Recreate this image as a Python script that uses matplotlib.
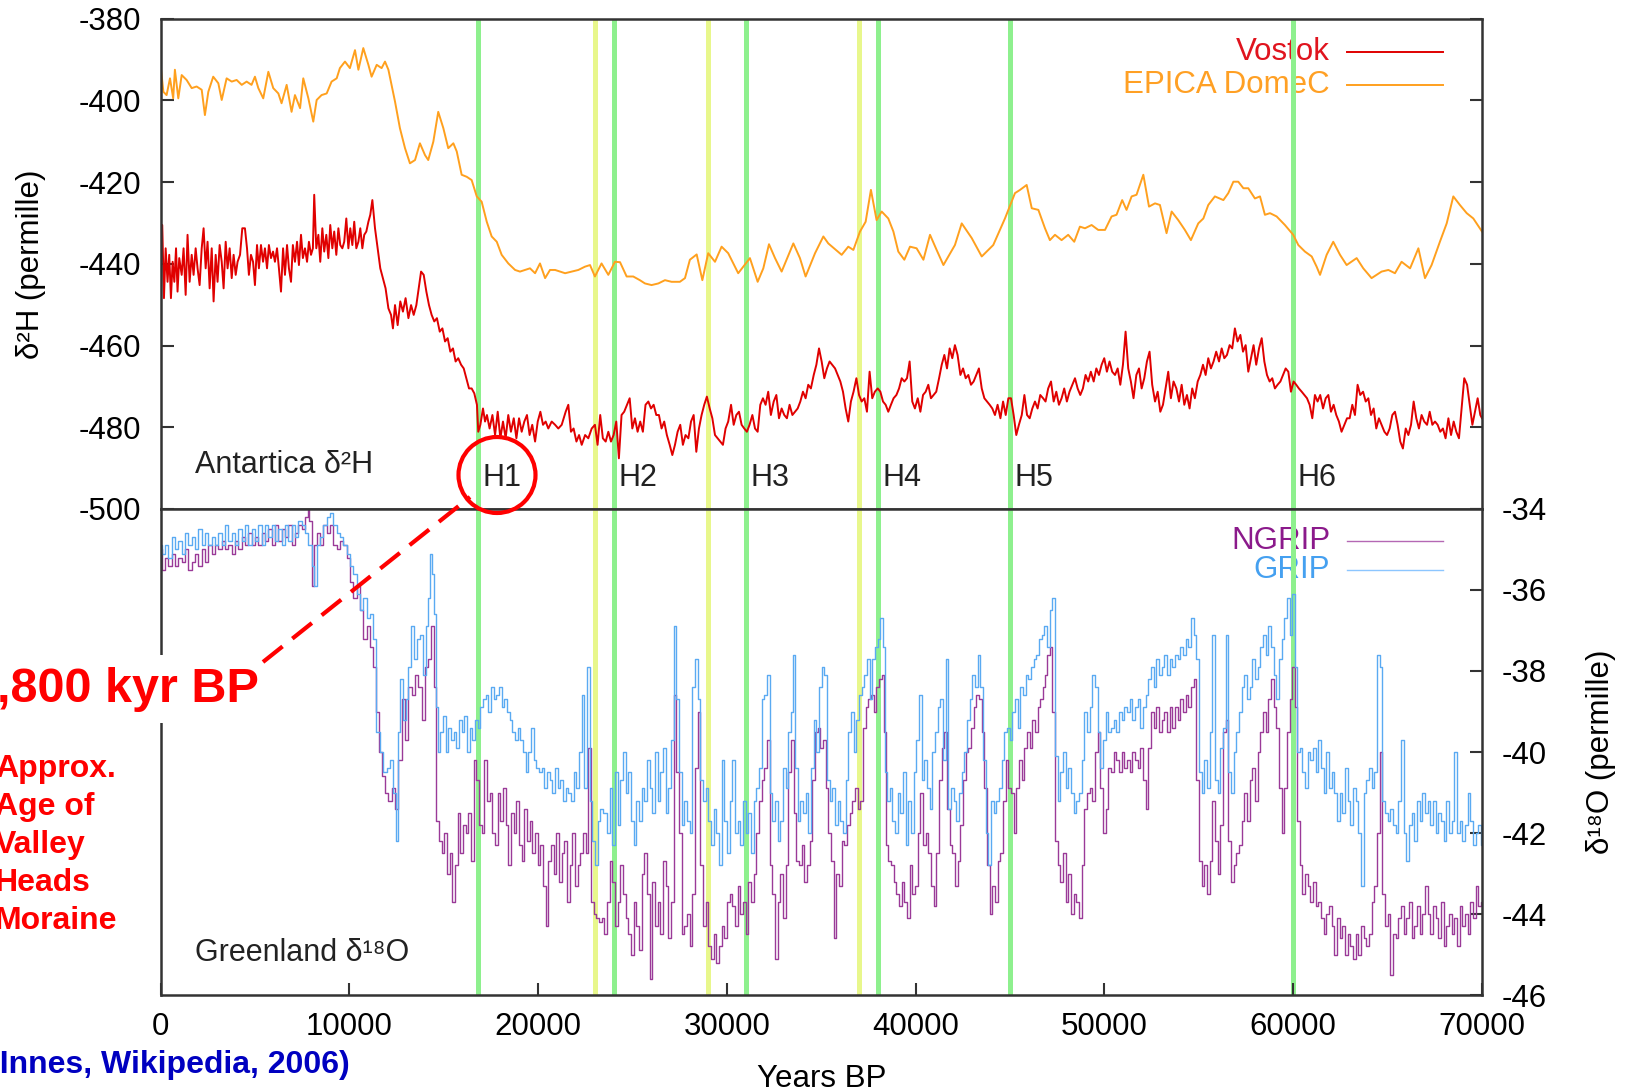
import matplotlib.pyplot as plt
from matplotlib.patches import Ellipse
from matplotlib.lines import Line2D

plt.rcParams['font.family'] = ['Liberation Sans', 'DejaVu Sans']
plt.rcParams['axes.unicode_minus'] = False

# Antarctic deuterium records: (years BP, d2H permille)
vostok = [
    (0, -439.5), (90, -430.5), (180, -448.4), (270, -436.2), (370, -444.4), (460, -437.8),
    (550, -448.4), (640, -439.5), (730, -444.4), (820, -436.2), (900, -446.8), (990, -438.6),
    (1120, -442.7), (1220, -436.2), (1330, -447.6), (1430, -432.9), (1540, -444.4), (1650, -437.8),
    (1750, -442.7), (1860, -436.2), (1960, -441.1), (2070, -445.2), (2180, -436.2), (2280, -431.3),
    (2390, -441.1), (2490, -434.6), (2600, -446.0), (2710, -436.2), (2810, -449.2), (2920, -437.8),
    (3020, -444.4), (3130, -435.4), (3240, -439.5), (3340, -446.0), (3450, -434.6), (3550, -441.1),
    (3660, -436.2), (3770, -443.5), (3870, -437.8), (3980, -442.7), (4080, -439.5), (4210, -437.8),
    (4330, -431.3), (4470, -431.3), (4580, -436.2), (4680, -442.7), (4790, -437.8), (4900, -439.5),
    (5000, -445.2), (5110, -435.4), (5210, -441.1), (5320, -435.4), (5430, -439.5), (5530, -436.2),
    (5640, -441.1), (5740, -435.4), (5850, -438.6), (5960, -437.0), (6060, -439.5), (6170, -436.2),
    (6270, -441.1), (6380, -446.8), (6490, -436.2), (6590, -442.7), (6700, -435.4), (6800, -441.1),
    (6910, -444.4), (7010, -435.4), (7120, -439.5), (7230, -434.6), (7330, -440.3), (7440, -432.9),
    (7540, -438.6), (7650, -436.2), (7760, -439.5), (7860, -434.6), (7970, -437.8), (8070, -436.2),
    (8140, -423.1), (8250, -436.2), (8360, -432.9), (8460, -439.5), (8570, -431.3), (8670, -437.0),
    (8780, -432.9), (8890, -438.6), (8990, -430.5), (9100, -436.2), (9200, -432.1), (9310, -437.8),
    (9420, -431.3), (9520, -435.4), (9630, -436.2), (9730, -434.6), (9840, -428.9), (9950, -436.2),
    (10050, -431.3), (10160, -435.4), (10260, -429.7), (10370, -436.2), (10480, -434.6), (10580, -431.3),
    (10690, -436.2), (10790, -432.9), (10900, -432.1), (11010, -429.7), (11110, -428.0), (11220, -424.4),
    (11360, -431.3), (11500, -436.2), (11640, -441.1), (11780, -443.5), (11920, -446.0), (12070, -450.9),
    (12210, -452.5), (12310, -455.8), (12420, -450.1), (12560, -455.0), (12700, -449.2), (12840, -451.7),
    (12980, -448.4), (13130, -453.3), (13270, -450.1), (13410, -452.5), (13550, -450.1), (13650, -446.8),
    (13800, -441.9), (13940, -442.7), (14080, -446.8), (14220, -450.1), (14360, -452.5), (14500, -454.1),
    (14640, -453.3), (14790, -456.6), (14930, -455.8), (15070, -459.0), (15210, -458.2), (15350, -461.5),
    (15490, -460.7), (15630, -463.9), (15770, -463.1), (15920, -464.7), (16060, -465.6), (16200, -468.0),
    (16340, -470.5), (16480, -470.5), (16620, -471.7), (16760, -474.5), (16830, -481.1), (16940, -479.4),
    (17080, -475.4), (17190, -478.6), (17290, -477.0), (17430, -480.3), (17580, -477.0), (17720, -481.9),
    (17860, -476.2), (18000, -482.7), (18140, -478.6), (18280, -482.7), (18420, -477.0), (18560, -481.1),
    (18710, -477.8), (18850, -482.7), (18990, -477.8), (19130, -481.1), (19270, -478.6), (19410, -477.0),
    (19550, -481.9), (19690, -479.4), (19840, -483.5), (19980, -478.6), (20120, -476.2), (20260, -479.4),
    (20400, -478.6), (20540, -480.3), (20720, -478.6), (20900, -479.4), (21070, -480.3), (21250, -479.4),
    (21460, -476.2), (21600, -474.5), (21740, -481.1), (21880, -480.3), (22030, -483.5), (22170, -481.9),
    (22310, -484.3), (22490, -481.9), (22660, -482.7), (22840, -480.3),
    (23010, -479.4), (23150, -484.3), (23290, -477.0), (23430, -482.7), (23580, -483.5), (23720, -481.1),
    (23860, -483.5), (24000, -481.9), (24140, -478.6), (24280, -487.6), (24420, -477.0), (24560, -476.2),
    (24710, -474.5), (24850, -472.9), (24990, -480.3), (25130, -477.8), (25270, -481.1), (25410, -478.6),
    (25550, -481.1), (25690, -474.5), (25840, -473.7), (25980, -475.4), (26120, -474.5), (26260, -477.0),
    (26400, -477.0), (26540, -480.3), (26680, -478.6), (26820, -481.9), (26970, -484.3), (27110, -486.8),
    (27250, -484.3), (27390, -481.1), (27530, -479.4), (27670, -484.3), (27810, -481.9), (27960, -482.7),
    (28100, -478.6), (28240, -477.0), (28380, -486.0), (28520, -480.3), (28660, -477.0), (28800, -474.5),
    (28940, -472.5), (29090, -475.4), (29230, -477.8), (29370, -481.9), (29510, -482.7), (29650, -483.5),
    (29790, -484.3), (29930, -480.3), (30070, -478.6), (30220, -474.5), (30360, -479.4), (30500, -477.0),
    (30640, -476.2), (30780, -479.4), (30920, -480.3), (31060, -481.1), (31200, -479.4), (31350, -477.0),
    (31490, -480.3), (31630, -481.1), (31770, -474.5), (31910, -472.9), (32050, -474.5), (32190, -471.3),
    (32330, -477.0), (32480, -473.7), (32620, -472.1), (32760, -477.8), (32900, -475.4), (33040, -477.0),
    (33180, -477.8), (33320, -474.5), (33470, -477.0), (33610, -476.2), (33750, -475.4), (33890, -473.7),
    (34030, -471.3), (34170, -472.9), (34310, -469.6), (34450, -470.5), (34600, -467.2), (34740, -464.7),
    (34880, -460.7), (35020, -463.9), (35160, -468.0), (35300, -465.6), (35440, -463.9), (35580, -464.7),
    (35730, -465.6), (35870, -467.2), (36010, -468.8), (36150, -471.3), (36290, -475.4), (36430, -478.6),
    (36570, -473.7), (36710, -471.3), (36860, -468.0), (37000, -472.1), (37140, -473.7), (37280, -472.9),
    (37420, -476.2), (37560, -466.4), (37700, -472.9), (37840, -471.3), (37990, -470.5), (38130, -471.3),
    (38270, -473.7), (38410, -474.5), (38550, -476.2), (38690, -474.5), (38830, -472.9), (38980, -472.1),
    (39120, -470.5), (39260, -468.0), (39400, -468.8), (39540, -468.0), (39680, -463.9), (39820, -473.7),
    (39960, -475.4), (40110, -472.9), (40250, -476.2), (40390, -472.1), (40530, -471.3), (40670, -469.6),
    (40810, -472.9), (40950, -472.1), (41090, -471.3), (41240, -468.0), (41380, -464.7), (41520, -462.3),
    (41660, -465.6), (41800, -460.7), (41940, -463.1), (42080, -459.9), (42220, -462.3), (42370, -467.2),
    (42510, -465.6), (42650, -468.0), (42790, -467.2), (42930, -469.6), (43070, -468.8), (43210, -467.2),
    (43350, -465.6), (43500, -470.5), (43640, -472.9), (43780, -473.7), (43920, -474.5), (44060, -475.4),
    (44200, -477.0), (44340, -474.5), (44490, -477.8), (44630, -473.7), (44770, -477.0), (44910, -472.9),
    (45050, -472.9), (45190, -477.0), (45330, -481.9), (45470, -479.4), (45620, -477.0), (45760, -472.1),
    (45900, -477.0), (46040, -477.8), (46180, -475.4), (46320, -473.7), (46460, -475.4), (46600, -472.1),
    (46750, -472.9),
    (46880, -473.7), (47020, -470.5), (47170, -468.8), (47310, -473.7), (47450, -471.3), (47590, -474.5),
    (47730, -472.9), (47870, -470.5), (48010, -473.7), (48150, -471.3), (48300, -469.6), (48440, -468.0),
    (48580, -470.5), (48720, -472.1), (48860, -470.5), (49000, -467.2), (49140, -468.8), (49280, -466.4),
    (49430, -468.8), (49570, -465.6), (49710, -467.2), (49850, -464.7), (49990, -463.1), (50130, -466.4),
    (50270, -463.9), (50410, -466.4), (50560, -467.2), (50700, -465.6), (50840, -469.6), (50980, -464.7),
    (51120, -456.6), (51260, -465.6), (51400, -468.8), (51540, -472.9), (51690, -467.2), (51830, -465.6),
    (51970, -470.5), (52110, -468.0), (52250, -463.9), (52390, -461.5), (52530, -469.6), (52680, -473.7),
    (52820, -471.3), (52960, -476.2), (53100, -474.5), (53240, -470.5), (53380, -466.4), (53520, -472.9),
    (53660, -468.8), (53810, -470.5), (53950, -473.7), (54090, -469.6), (54230, -474.5), (54370, -472.1),
    (54510, -475.4), (54650, -470.5), (54790, -472.9), (54940, -468.8), (55080, -467.2), (55220, -464.7),
    (55360, -467.2), (55500, -463.1), (55640, -465.6), (55780, -463.9), (55920, -461.5), (56070, -463.9),
    (56210, -460.7), (56350, -463.1), (56490, -462.3), (56630, -459.9), (56770, -460.7), (56910, -455.8),
    (57050, -459.0), (57200, -457.4), (57340, -461.5), (57480, -459.9), (57620, -466.4), (57760, -463.1),
    (57900, -459.9), (58040, -464.7), (58190, -460.7), (58330, -458.2), (58470, -463.9), (58610, -467.2),
    (58750, -468.8), (58890, -468.0), (59030, -470.5), (59170, -469.6), (59320, -468.8), (59460, -467.2),
    (59600, -465.6), (59740, -466.4), (59880, -471.3), (60020, -468.8), (60160, -469.6), (60300, -470.5),
    (60450, -471.3), (60590, -472.1), (60730, -472.9), (60870, -474.5), (61010, -477.8), (61150, -472.1),
    (61290, -473.7), (61430, -472.1), (61580, -475.4), (61720, -472.9), (61860, -472.1), (62000, -476.2),
    (62140, -474.5), (62280, -477.0), (62420, -478.6), (62560, -481.1), (62710, -479.4), (62850, -477.8),
    (62990, -477.8), (63130, -474.5), (63270, -477.0), (63410, -469.6), (63550, -472.1), (63700, -471.3),
    (63840, -473.7), (63980, -472.9), (64120, -477.0), (64260, -475.4), (64400, -480.3), (64540, -477.8),
    (64680, -479.4), (64830, -481.1), (64970, -481.9), (65110, -480.3), (65250, -477.0), (65390, -476.2),
    (65530, -479.4), (65670, -483.5), (65810, -485.2), (65960, -480.3), (66100, -481.9), (66240, -479.4),
    (66380, -473.7), (66520, -477.8), (66660, -480.3), (66800, -477.0), (66940, -478.6), (67090, -479.4),
    (67230, -476.2), (67370, -479.4), (67510, -478.6), (67650, -479.4), (67790, -481.1), (67930, -480.3),
    (68070, -482.7), (68220, -477.8), (68360, -481.9), (68500, -478.6), (68640, -481.1), (68780, -482.7),
    (68920, -475.4), (69060, -468.0), (69210, -469.6), (69350, -474.5), (69490, -479.4), (69630, -476.2),
    (69770, -472.9), (69910, -477.0), (70000, -477.8),
]

epica = [
    (0, -391.3), (150, -397.9), (320, -398.7), (500, -394.6), (670, -399.5), (760, -392.5),
    (940, -399.5), (1120, -393.8), (1380, -395.0), (1650, -397.0), (1910, -396.6), (2180, -397.4),
    (2350, -403.6), (2530, -397.9), (2790, -394.2), (3060, -395.8), (3240, -399.9), (3500, -394.6),
    (3770, -395.4), (4030, -395.0), (4300, -396.2), (4560, -395.4), (4820, -396.2), (5000, -394.2),
    (5180, -397.0), (5440, -399.5), (5710, -393.0), (5970, -397.0), (6240, -398.3), (6410, -400.7),
    (6680, -396.2), (6940, -402.8), (7120, -398.7), (7390, -401.9), (7560, -394.6), (7830, -399.5),
    (8090, -405.2), (8270, -399.9), (8530, -398.7), (8800, -398.3), (9060, -395.4), (9330, -394.6),
    (9500, -392.1), (9770, -390.5), (10030, -392.1), (10300, -387.7), (10480, -392.5), (10740, -387.2),
    (11010, -391.3), (11180, -394.2), (11450, -391.3), (11710, -392.1), (11890, -390.5), (12070, -392.5),
    (12420, -400.3), (12680, -406.8), (12950, -411.7), (13210, -415.4), (13480, -414.6), (13740, -410.5),
    (14010, -413.4), (14180, -414.6), (14450, -410.1), (14710, -402.8), (14980, -406.8), (15240, -411.7),
    (15510, -410.5), (15690, -412.5), (15950, -418.2), (16220, -418.7), (16480, -419.5), (16750, -423.5),
    (17010, -424.8), (17280, -429.7), (17540, -433.3), (17810, -434.6), (18070, -437.8), (18420, -439.9),
    (18780, -441.5), (19040, -441.9), (19310, -441.5), (19570, -441.1), (19840, -442.3), (20100, -439.9),
    (20370, -443.5), (20630, -441.5), (20900, -441.5), (21160, -441.9), (21430, -442.3), (21780, -441.9),
    (22130, -441.5), (22480, -440.7), (22750, -440.3),
    (23010, -443.1), (23360, -439.9), (23720, -442.7), (24070, -439.5), (24340, -439.6), (24690, -443.1),
    (25040, -443.1), (25390, -444.0), (25660, -444.8), (26010, -445.2), (26370, -444.8), (26720, -444.0),
    (27070, -444.4), (27510, -444.4), (27780, -443.5), (28040, -439.0), (28400, -437.7), (28700, -444.0),
    (29010, -437.4), (29370, -439.5), (29720, -435.8), (30070, -437.4), (30600, -442.3), (31220, -438.6),
    (31630, -444.4), (31930, -441.1), (32230, -435.2), (32550, -438.6), (32900, -441.9), (33520, -435.0),
    (33870, -438.6), (34170, -443.1), (34670, -437.4), (35110, -433.3), (35370, -435.0), (36080, -437.8),
    (36430, -435.8), (36700, -436.6), (37050, -432.1), (37350, -429.7), (37630, -421.9), (37930, -429.3),
    (38200, -427.2), (38550, -428.9), (38820, -432.1), (39080, -437.0), (39400, -439.0), (39700, -435.8),
    (40050, -436.2), (40410, -439.0), (40760, -432.9), (41110, -436.6), (41470, -440.3), (42080, -435.4),
    (42440, -430.1), (42970, -433.7), (43500, -438.2), (44110, -435.4), (44730, -428.9), (45260, -422.7),
    (45530, -421.9), (45880, -420.7), (46150, -426.4), (46500, -426.8), (46850, -431.3),
    (47110, -434.2), (47380, -432.9), (47730, -434.2), (48080, -432.9), (48400, -434.6), (48700, -430.9),
    (48970, -431.3), (49320, -430.5), (49670, -431.7), (50030, -431.7), (50380, -428.4), (50640, -428.0),
    (50940, -424.4), (51170, -426.8), (51440, -423.5), (51700, -423.1), (52060, -418.2), (52360, -426.0),
    (52680, -425.2), (52940, -425.6), (53290, -432.5), (53560, -427.2), (53910, -429.3), (54260, -431.7),
    (54580, -434.2), (54970, -430.1), (55240, -428.9), (55500, -425.6), (55850, -423.5), (56300, -424.4),
    (56560, -422.7), (56830, -419.9), (57090, -419.9), (57360, -421.5), (57620, -421.5), (57970, -424.0),
    (58240, -423.5), (58500, -428.0), (58770, -427.6), (59120, -428.4), (59560, -430.5), (60000, -432.9),
    (60270, -435.4), (60620, -437.0), (60980, -438.2), (61240, -440.7), (61420, -442.7), (61770, -437.8),
    (62120, -434.6), (62480, -437.8), (62830, -440.3), (63360, -438.6), (63710, -441.1), (64150, -443.5),
    (64680, -441.9), (65040, -441.5), (65390, -442.3), (65740, -439.5), (66190, -441.1), (66630, -436.2),
    (66980, -443.5), (67330, -440.3), (67770, -434.6), (68130, -430.1), (68480, -423.5), (68830, -425.6),
    (69190, -427.6), (69540, -428.9), (70000, -432.1),
]

# Greenland oxygen isotope records: (years BP, d18O permille)
ngrip = [
    (0, -35.0), (150, -35.5), (320, -35.2), (500, -35.4), (670, -35.1), (850, -35.4), (1030, -35.2),
    (1200, -35.3), (1380, -35.0), (1560, -35.5), (1730, -35.3), (1910, -35.1), (2090, -35.4), (2260, -35.0),
    (2440, -35.3), (2620, -34.9), (2790, -35.1), (2970, -34.9), (3150, -35.0), (3320, -34.8), (3500, -35.0),
    (3680, -34.9), (3850, -35.1), (4030, -34.8), (4210, -35.0), (4380, -34.7), (4560, -34.9), (4740, -34.6),
    (4910, -34.9), (5090, -34.7), (5270, -34.9), (5440, -34.6), (5620, -34.8), (5800, -34.5), (5970, -34.9),
    (6150, -34.4), (6330, -34.8), (6500, -34.5), (6680, -34.7), (6860, -34.4), (7030, -34.9), (7210, -34.6),
    (7390, -34.4), (7560, -34.5), (7740, -34.2), (7830, -34.0), (7920, -34.3), (8090, -35.9), (8180, -34.9),
    (8360, -34.6), (8530, -34.9), (8710, -34.4), (8890, -34.6), (9060, -34.4), (9240, -34.9), (9420, -35.0),
    (9590, -34.8), (9770, -34.9), (9950, -35.2), (10120, -35.8), (10300, -36.2), (10480, -35.9), (10650, -36.5),
    (10830, -37.2), (11010, -36.9), (11180, -37.4), (11360, -37.9), (11500, -39.0), (11620, -40.0), (11800, -40.6),
    (11980, -41.0), (12150, -41.2), (12330, -40.9), (12510, -41.4), (12680, -40.2), (12860, -38.7), (13040, -39.7),
    (13210, -38.4), (13390, -38.6), (13570, -38.1), (13740, -38.4), (13920, -39.2), (14100, -37.9), (14270, -37.7),
    (14410, -36.9), (14540, -38.4), (14680, -41.7), (14820, -42.2), (14960, -42.5), (15100, -42.0), (15240, -43.0),
    (15390, -42.5), (15530, -43.7), (15670, -42.8), (15810, -41.5), (15950, -42.5), (16090, -41.8), (16230, -42.0),
    (16370, -41.5), (16520, -42.7), (16660, -40.2), (16800, -40.7), (16940, -41.8), (17080, -42.0), (17220, -40.2),
    (17360, -41.2), (17500, -41.0), (17650, -42.0), (17790, -42.3), (17930, -41.0), (18070, -41.7), (18210, -40.9),
    (18350, -41.8), (18490, -42.8), (18640, -41.5), (18780, -42.0), (18920, -41.2), (19060, -42.3), (19200, -42.7),
    (19340, -41.4), (19480, -42.2), (19620, -41.7), (19770, -42.5), (19910, -42.0), (20050, -42.8), (20190, -42.3),
    (20330, -43.3), (20470, -44.3), (20610, -42.7), (20750, -42.3), (20900, -43.0), (21040, -42.0), (21180, -43.2),
    (21320, -42.5), (21460, -42.2), (21600, -43.7), (21740, -42.8), (21880, -42.0), (22030, -43.3), (22170, -42.8),
    (22310, -42.5), (22450, -42.0), (22590, -42.5), (22730, -39.9), (22870, -43.7), (23010, -44.0), (23160, -44.1),
    (23300, -44.2), (23440, -44.1),
    (23580, -44.5), (23720, -43.7), (23860, -42.7), (24000, -43.2), (24140, -44.3), (24280, -43.7), (24420, -42.8),
    (24560, -43.5), (24710, -44.1), (24850, -44.5), (24990, -45.0), (25130, -43.7), (25270, -44.3), (25410, -44.9),
    (25550, -43.0), (25690, -42.5), (25840, -43.5), (25980, -45.6), (26120, -43.2), (26260, -44.3), (26400, -43.7),
    (26540, -44.5), (26680, -42.7), (26820, -43.3), (26970, -44.6), (27110, -43.7), (27250, -38.6), (27390, -40.5),
    (27530, -42.0), (27670, -44.5), (27810, -44.3), (27960, -44.0), (28100, -44.8), (28240, -43.5), (28380, -40.4),
    (28520, -39.0), (28660, -42.8), (28800, -44.3), (28940, -43.7), (29090, -44.8), (29230, -45.1), (29370, -44.5),
    (29510, -45.2), (29650, -44.8), (29790, -44.3), (29930, -44.6), (30070, -43.7), (30220, -43.5), (30360, -43.8),
    (30500, -44.3), (30640, -43.3), (30780, -44.0), (30920, -43.7), (31060, -44.5), (31200, -43.2), (31350, -43.7),
    (31490, -43.0), (31630, -42.0), (31770, -41.2), (31910, -40.7), (32050, -40.4), (32190, -39.7), (32330, -42.8),
    (32480, -43.5), (32620, -45.1), (32760, -43.7), (32900, -43.0), (33040, -44.1), (33180, -42.8), (33320, -40.5),
    (33470, -39.7), (33610, -41.5), (33750, -42.7), (33890, -42.8), (34030, -42.3), (34170, -43.2), (34310, -42.8),
    (34450, -42.2), (34600, -40.7), (34740, -39.5), (34880, -39.4), (35020, -39.9), (35160, -39.7), (35300, -40.9),
    (35440, -42.0), (35580, -42.7), (35730, -44.6), (35870, -43.0), (36010, -43.3), (36150, -42.2), (36290, -42.3),
    (36430, -41.8), (36570, -41.5), (36710, -41.2), (36860, -40.9), (37000, -41.4), (37140, -41.2), (37280, -39.4),
    (37420, -38.9), (37560, -38.7), (37700, -38.6), (37840, -39.0), (37990, -38.4), (38130, -38.2), (38270, -38.1),
    (38370, -39.5), (38480, -42.3), (38620, -42.7), (38760, -42.8), (38900, -43.2), (39050, -43.5), (39190, -43.8),
    (39330, -43.2), (39470, -43.7), (39610, -44.1), (39750, -42.8), (39890, -43.5), (40030, -43.3), (40180, -42.0),
    (40320, -41.0), (40460, -42.3), (40600, -42.0), (40740, -42.5), (40880, -43.3), (41020, -43.8), (41160, -42.5),
    (41310, -40.7), (41450, -39.9), (41590, -39.5), (41730, -41.4), (41870, -42.3), (42010, -42.5), (42150, -43.3),
    (42300, -42.7), (42440, -41.8), (42580, -40.7), (42720, -40.0), (42860, -39.9), (43000, -39.4), (43140, -38.9),
    (43280, -38.6), (43430, -38.7), (43570, -39.5), (43710, -40.9), (43850, -42.8), (43990, -44.0), (44130, -43.3),
    (44270, -43.7), (44410, -42.7), (44560, -42.5), (44700, -41.2), (44840, -40.2), (44980, -40.9), (45120, -41.0),
    (45260, -42.0), (45400, -40.9), (45540, -40.2), (45690, -40.7), (45830, -39.9), (45970, -39.5), (46110, -39.9),
    (46250, -39.2), (46390, -39.5), (46530, -38.9), (46670, -38.7), (46820, -38.4),
    (46880, -38.1), (47020, -37.6), (47170, -37.4), (47310, -39.0), (47450, -42.2), (47590, -42.8), (47730, -43.2),
    (47870, -42.5), (48010, -43.7), (48150, -43.0), (48300, -44.0), (48440, -43.5), (48580, -43.7), (48720, -44.1),
    (48860, -42.8), (49000, -41.4), (49140, -41.0), (49280, -40.9), (49430, -41.2), (49570, -40.0), (49710, -39.5),
    (49850, -40.9), (49990, -42.0), (50130, -41.4), (50270, -40.4), (50410, -40.5), (50560, -40.0), (50700, -40.2),
    (50840, -40.5), (50980, -40.0), (51120, -40.4), (51260, -40.2), (51400, -40.5), (51540, -40.0), (51690, -40.2),
    (51830, -40.4), (51970, -39.9), (52110, -40.7), (52250, -41.4), (52390, -39.9), (52530, -39.0), (52680, -39.4),
    (52820, -38.9), (52960, -39.5), (53100, -39.2), (53240, -39.0), (53380, -39.5), (53520, -38.9), (53660, -39.4),
    (53810, -38.9), (53950, -39.2), (54090, -38.7), (54230, -39.0), (54370, -38.6), (54510, -38.9), (54650, -38.4),
    (54790, -38.2), (54940, -40.7), (55080, -42.7), (55220, -43.3), (55360, -42.8), (55500, -43.5), (55640, -42.7),
    (55780, -41.2), (55920, -42.2), (56070, -43.0), (56210, -41.8), (56350, -39.5), (56490, -39.2), (56630, -42.2),
    (56770, -43.2), (56910, -42.8), (57050, -42.5), (57200, -42.3), (57340, -41.7), (57480, -41.0), (57620, -41.7),
    (57760, -40.7), (57900, -40.4), (58040, -41.2), (58190, -40.0), (58330, -39.5), (58470, -39.0), (58610, -39.5),
    (58750, -38.7), (58890, -38.2), (59030, -38.9), (59170, -39.4), (59320, -40.9), (59460, -42.0), (59600, -40.9),
    (59740, -39.5), (59880, -38.7), (60020, -37.9), (60160, -38.9), (60270, -41.7), (60410, -42.8), (60550, -43.5),
    (60690, -43.0), (60830, -43.3), (60980, -43.7), (61120, -43.2), (61260, -43.8), (61400, -43.7), (61540, -44.1),
    (61680, -44.5), (61820, -44.0), (61960, -43.8), (62110, -44.3), (62250, -45.0), (62390, -44.1), (62530, -44.6),
    (62670, -44.3), (62810, -45.0), (62950, -44.5), (63090, -44.8), (63240, -45.1), (63380, -44.5), (63520, -45.0),
    (63660, -44.3), (63800, -44.6), (63940, -44.8), (64080, -44.5), (64220, -43.7), (64370, -43.3), (64510, -42.0),
    (64650, -40.0), (64790, -43.5), (64930, -44.3), (65070, -44.0), (65210, -45.5), (65360, -44.5), (65500, -44.6),
    (65640, -44.1), (65780, -43.8), (65920, -44.5), (66060, -44.1), (66200, -43.7), (66340, -44.6), (66490, -44.3),
    (66630, -43.8), (66770, -44.5), (66910, -44.0), (67050, -43.3), (67190, -44.0), (67330, -44.5), (67470, -43.8),
    (67620, -44.1), (67760, -44.6), (67900, -43.7), (68040, -44.8), (68180, -44.3), (68320, -44.0), (68460, -44.5),
    (68600, -44.1), (68750, -44.8), (68890, -43.8), (69030, -44.3), (69170, -44.0), (69310, -44.5), (69450, -43.7),
    (69590, -44.1), (69730, -43.3), (69880, -43.8), (70000, -43.7),
]

grip = [
    (0, -34.9), (150, -35.1), (320, -34.9), (500, -35.2), (670, -34.7), (850, -35.0), (1030, -34.8),
    (1200, -35.1), (1380, -34.6), (1560, -34.9), (1730, -34.7), (1910, -35.0), (2090, -34.5), (2260, -34.9),
    (2440, -34.6), (2620, -34.9), (2790, -34.7), (2970, -34.9), (3150, -34.6), (3320, -34.9), (3500, -34.4),
    (3680, -34.8), (3850, -34.6), (4030, -34.9), (4210, -34.5), (4380, -34.8), (4560, -34.4), (4740, -34.9),
    (4910, -34.5), (5090, -34.8), (5270, -34.4), (5440, -34.9), (5620, -34.4), (5800, -34.7), (5970, -34.4),
    (6150, -34.8), (6330, -34.5), (6500, -34.9), (6680, -34.4), (6860, -34.8), (7030, -34.4), (7210, -34.7),
    (7390, -34.3), (7560, -34.4), (7740, -34.6), (7920, -34.9), (8000, -34.9), (8090, -35.4), (8180, -35.9),
    (8360, -34.9), (8530, -34.7), (8710, -34.4), (8890, -34.2), (9060, -34.1), (9240, -34.4), (9420, -34.6),
    (9590, -34.7), (9770, -34.9), (9950, -35.1), (10120, -35.4), (10300, -35.6), (10480, -36.1), (10650, -36.5),
    (10830, -36.2), (11010, -36.7), (11180, -36.6), (11360, -37.2), (11450, -39.5), (11540, -39.5), (11710, -40.0),
    (11890, -40.5), (12070, -40.4), (12240, -40.2), (12420, -41.0), (12510, -42.2), (12600, -39.5), (12770, -38.2),
    (12910, -39.2), (13050, -38.7), (13200, -37.9), (13340, -36.9), (13480, -37.7), (13650, -37.2), (13830, -37.1),
    (13970, -38.1), (14110, -36.9), (14260, -36.2), (14330, -35.1), (14430, -35.6), (14540, -36.6), (14640, -38.9),
    (14750, -40.0), (14890, -39.5), (15030, -39.1), (15170, -40.0), (15320, -39.4), (15460, -39.7), (15600, -39.5),
    (15740, -39.9), (15880, -39.2), (16020, -39.5), (16160, -39.1), (16300, -40.0), (16440, -39.4), (16590, -39.7),
    (16730, -39.2), (16870, -39.4), (17010, -38.9), (17150, -38.7), (17290, -38.6), (17430, -39.0), (17580, -38.4),
    (17720, -38.7), (17860, -38.6), (18000, -38.4), (18140, -38.9), (18280, -38.7), (18420, -39.0), (18560, -39.2),
    (18710, -39.5), (18850, -39.7), (18990, -39.4), (19130, -39.7), (19270, -40.0), (19410, -40.5), (19550, -40.0),
    (19690, -39.4), (19840, -40.2), (19980, -40.4), (20120, -40.5), (20260, -40.4), (20400, -40.9), (20540, -40.5),
    (20680, -40.7), (20830, -41.0), (20970, -40.4), (21110, -40.9), (21250, -40.7), (21390, -41.2), (21530, -40.9),
    (21670, -41.0), (21810, -41.2), (21960, -40.5), (22100, -40.9), (22240, -40.0), (22380, -38.6), (22520, -40.9),
    (22660, -37.9), (22800, -41.2), (22940, -42.2), (23090, -42.8), (23230, -41.7), (23370, -41.4), (23510, -41.5),
    (23580, -41.5), (23720, -42.0), (23860, -40.9), (24000, -42.3), (24140, -40.5), (24280, -41.8), (24420, -40.7),
    (24560, -40.0), (24710, -41.0), (24850, -40.5), (24990, -41.7), (25130, -42.3), (25270, -41.2), (25410, -41.7),
    (25550, -40.9), (25690, -41.2), (25840, -40.2), (25980, -40.9), (26120, -41.5), (26260, -40.0), (26400, -41.2),
    (26540, -40.5), (26680, -39.9), (26820, -41.5), (26970, -40.9), (27110, -39.7), (27250, -36.9), (27390, -38.7),
    (27530, -40.5), (27670, -41.8), (27810, -41.2), (27960, -41.7), (28100, -42.0), (28240, -38.4), (28380, -37.7),
    (28520, -38.7), (28660, -40.7), (28800, -41.2), (28940, -40.9), (29090, -41.7), (29230, -42.3), (29370, -41.4),
    (29510, -42.0), (29650, -42.8), (29790, -40.2), (29930, -41.7), (30070, -42.5), (30220, -41.2), (30360, -40.2),
    (30500, -42.0), (30640, -41.7), (30780, -42.3), (30920, -41.2), (31060, -42.0), (31200, -41.5), (31350, -42.5),
    (31490, -41.2), (31630, -40.9), (31770, -40.4), (31910, -38.7), (32050, -38.6), (32190, -38.1), (32330, -41.0),
    (32480, -41.7), (32620, -41.2), (32760, -42.2), (32900, -41.7), (33040, -40.4), (33180, -40.9), (33320, -39.5),
    (33470, -39.0), (33570, -37.6), (33680, -40.4), (33820, -41.7), (33960, -41.2), (34100, -41.5), (34240, -41.0),
    (34380, -42.0), (34520, -40.4), (34670, -39.2), (34810, -40.0), (34950, -38.4), (35090, -37.9), (35230, -38.1),
    (35370, -40.7), (35510, -41.2), (35660, -40.9), (35800, -41.8), (35940, -41.2), (36080, -41.7), (36220, -42.0),
    (36360, -40.7), (36500, -39.5), (36640, -39.0), (36790, -40.0), (36930, -39.2), (37070, -38.6), (37210, -38.4),
    (37350, -38.1), (37490, -37.7), (37630, -38.7), (37770, -37.7), (37920, -37.4), (38060, -37.2), (38200, -36.7),
    (38300, -37.4), (38410, -40.5), (38550, -41.2), (38690, -40.9), (38830, -41.7), (38980, -42.0), (39120, -41.0),
    (39260, -41.5), (39400, -40.5), (39540, -42.3), (39680, -41.2), (39820, -42.0), (39960, -40.5), (40110, -39.7),
    (40250, -38.6), (40390, -40.7), (40530, -40.2), (40670, -40.9), (40810, -41.4), (40950, -40.0), (41090, -39.5),
    (41240, -38.9), (41380, -38.7), (41520, -40.2), (41660, -37.7), (41800, -41.4), (41940, -40.9), (42080, -41.2),
    (42220, -41.7), (42370, -41.0), (42510, -40.5), (42650, -40.0), (42790, -39.2), (42930, -38.7), (43070, -38.1),
    (43210, -38.4), (43350, -37.6), (43500, -38.4), (43640, -40.2), (43780, -42.0), (43920, -42.8), (44060, -41.2),
    (44200, -41.5), (44340, -41.2), (44490, -40.9), (44630, -40.2), (44770, -39.5), (44910, -39.4), (45050, -39.7),
    (45190, -39.0), (45330, -38.7), (45470, -39.4), (45620, -38.4), (45760, -38.6), (45900, -38.1), (46040, -38.2),
    (46180, -37.9), (46320, -37.7), (46460, -37.6), (46600, -37.2), (46750, -37.1),
    (46880, -36.9), (47020, -37.4), (47170, -36.5), (47310, -36.2), (47450, -40.1), (47590, -41.2), (47730, -40.5),
    (47870, -40.0), (48010, -40.9), (48150, -40.4), (48300, -41.0), (48440, -41.5), (48580, -41.2), (48720, -41.0),
    (48860, -40.2), (49000, -39.0), (49140, -39.5), (49280, -38.9), (49430, -38.1), (49570, -38.4), (49710, -39.5),
    (49850, -40.4), (49990, -39.7), (50130, -39.0), (50270, -39.5), (50410, -39.4), (50560, -39.2), (50700, -39.5),
    (50840, -39.0), (50980, -39.2), (51120, -38.9), (51260, -39.0), (51400, -38.7), (51540, -39.2), (51690, -38.9),
    (51830, -38.7), (51970, -39.4), (52110, -38.9), (52250, -38.6), (52390, -38.2), (52530, -37.9), (52680, -38.4),
    (52820, -37.7), (52960, -38.1), (53100, -37.9), (53240, -37.6), (53380, -38.1), (53520, -37.7), (53660, -37.9),
    (53810, -37.6), (53950, -37.7), (54090, -37.4), (54230, -37.6), (54370, -37.2), (54510, -37.4), (54650, -36.7),
    (54790, -37.1), (54940, -37.7), (55080, -40.5), (55220, -41.0), (55360, -40.2), (55500, -40.9), (55640, -39.5),
    (55780, -37.1), (55920, -40.7), (56070, -41.0), (56210, -39.9), (56350, -39.4), (56490, -37.1), (56630, -40.5),
    (56770, -41.0), (56910, -40.0), (57050, -39.5), (57200, -39.0), (57340, -38.4), (57480, -38.1), (57620, -38.7),
    (57760, -38.4), (57900, -37.7), (58040, -38.2), (58190, -37.9), (58330, -37.4), (58470, -37.1), (58610, -37.6),
    (58750, -36.9), (58890, -37.4), (59030, -38.1), (59170, -38.7), (59320, -37.7), (59460, -37.2), (59600, -36.7),
    (59740, -36.2), (59880, -37.1), (60020, -36.1), (60160, -37.9), (60270, -40.0), (60410, -39.9), (60550, -40.5),
    (60690, -40.9), (60830, -40.0), (60980, -40.2), (61120, -39.9), (61260, -40.5), (61400, -39.7), (61540, -40.4),
    (61680, -41.0), (61820, -40.0), (61960, -40.9), (62110, -40.5), (62250, -41.0), (62390, -41.7), (62530, -41.0),
    (62670, -41.5), (62810, -40.4), (62950, -41.2), (63090, -41.8), (63240, -40.9), (63380, -41.2), (63520, -42.0),
    (63660, -43.3), (63800, -41.0), (63940, -40.7), (64080, -40.4), (64220, -40.9), (64370, -40.5), (64510, -37.6),
    (64650, -37.9), (64790, -41.2), (64930, -41.5), (65070, -41.7), (65210, -41.4), (65360, -41.8), (65500, -42.0),
    (65640, -41.2), (65780, -39.7), (65920, -42.0), (66060, -42.7), (66200, -41.8), (66340, -41.5), (66490, -42.2),
    (66630, -41.2), (66770, -41.7), (66910, -41.0), (67050, -41.5), (67190, -41.2), (67330, -41.8), (67470, -41.2),
    (67620, -42.0), (67760, -41.5), (67900, -41.7), (68040, -42.2), (68180, -41.2), (68320, -42.0), (68460, -41.7),
    (68600, -40.0), (68750, -42.0), (68890, -41.7), (69030, -42.2), (69170, -41.8), (69310, -41.0), (69450, -41.7),
    (69590, -42.3), (69730, -42.0), (69880, -41.8), (70000, -42.3),
]

heinrich_years = [16800, 24000, 31000, 38000, 45000, 60000]
heinrich_labels = ['H1', 'H2', 'H3', 'H4', 'H5', 'H6']
yellow_years = [23000, 29000, 37000]
x_ticks = [0, 10000, 20000, 30000, 40000, 50000, 60000, 70000]
moraine_lines = ['Approx.', 'Age of', 'Valley', 'Heads', 'Moraine']

W, H = 1625, 1092
fig = plt.figure(figsize=(W / 100, H / 100), dpi=100)
ax1 = fig.add_axes([0.0988, 0.5339, 0.8132, 0.4490])
ax2 = fig.add_axes([0.0988, 0.0888, 0.8132, 0.4451])

fs = 22.5
for ax in (ax1, ax2):
    for yr in heinrich_years:
        ax.axvline(yr, color='#8ef08e', lw=3.6, zorder=1.5)
    for yr in yellow_years:
        ax.axvline(yr, color='#e8f78c', lw=3.6, zorder=1.5)
    for sp in ax.spines.values():
        sp.set_color('#333333')
        sp.set_linewidth(1.8)

# top panel: Antarctica
ax1.plot(*zip(*vostok), color='#e00000', lw=1.4, zorder=2)
ax1.plot(*zip(*epica), color='#ffa01e', lw=1.4, zorder=2)
ax1.set_xlim(0, 70000)
ax1.set_ylim(-500, -380)
ax1.set_yticks(range(-500, -379, 20))
ax1.tick_params(axis='y', direction='in', left=True, right=True, labelleft=True,
                length=9, width=1.5, labelsize=fs, pad=14, color='#333333')
ax1.tick_params(axis='x', bottom=False, top=False, labelbottom=False)
ax1.set_ylabel('δ²H (permille)', fontsize=fs)
ax1.yaxis.set_label_coords(-0.087, 0.5)

ax1.text(0.885, 0.933, 'Vostok', color='#e0141e', ha='right', va='center',
         fontsize=fs, transform=ax1.transAxes, zorder=1)
ax1.add_line(Line2D([0.898, 0.9705], [0.933, 0.933], transform=ax1.transAxes,
                    color='#e00000', lw=1.4))
ax1.text(0.885, 0.865, 'EPICA DomeC', color='#ffa024', ha='right', va='center',
         fontsize=fs, transform=ax1.transAxes, zorder=1)
ax1.add_line(Line2D([0.898, 0.9705], [0.865, 0.865], transform=ax1.transAxes,
                    color='#ffa01e', lw=1.4))

for yr, lab in zip(heinrich_years, heinrich_labels):
    ax1.text(yr + 250, -492.5, lab, fontsize=22, va='center', color='#222222')
ax1.text(1812, -489.3, 'Antartica δ²H', fontsize=22, va='center', color='#222222')

# bottom panel: Greenland
ax2.plot(*zip(*ngrip), color='#9a3a98', lw=1.0, drawstyle='steps-mid', zorder=2)
ax2.plot(*zip(*grip), color='#5aaaf2', lw=1.0, drawstyle='steps-mid', zorder=2.1)
ax2.set_xlim(0, 70000)
ax2.set_ylim(-46, -34)
ax2.set_xticks(x_ticks)
ax2.set_xticklabels([str(t) for t in x_ticks])
ax2.tick_params(axis='x', direction='in', bottom=True, top=False, length=9, width=1.5,
                labelsize=fs, pad=12, color='#333333')
ax2.set_yticks(range(-46, -33, 2))
ax2.tick_params(axis='y', direction='in', left=False, right=True, labelleft=False,
                labelright=True, length=9, width=1.5, labelsize=fs, pad=14, color='#333333')
ax2.yaxis.set_label_position('right')
ax2.set_ylabel('δ¹⁸O (permille)', fontsize=fs, rotation=90)
ax2.yaxis.set_label_coords(1.079, 0.5)
ax2.set_xlabel('Years BP', fontsize=fs)
ax2.xaxis.set_label_coords(0.5, -0.142)

ax2.text(0.885, 0.934, 'NGRIP', color='#8b1a8b', ha='right', va='center',
         fontsize=fs, transform=ax2.transAxes, zorder=1)
ax2.add_line(Line2D([0.898, 0.9705], [0.934, 0.934], transform=ax2.transAxes,
                    color='#b468b4', lw=1.0))
ax2.text(0.885, 0.875, 'GRIP', color='#45a0f0', ha='right', va='center',
         fontsize=fs, transform=ax2.transAxes, zorder=1)
ax2.add_line(Line2D([0.898, 0.9705], [0.875, 0.875], transform=ax2.transAxes,
                    color='#8cc6ff', lw=1.0))
ax2.text(1812, -44.97, 'Greenland δ¹⁸O', fontsize=22, va='center', color='#222222')

# red annotation of H1 (cut by the left edge as in the source slide)
fig.text(259 / W, 1 - 689 / H, '16,800 kyr BP', ha='right', va='center', fontsize=35,
         fontweight='bold', color='#ff0000',
         bbox=dict(facecolor='white', edgecolor='none', pad=8), zorder=5)
fig.add_artist(Line2D([263 / W, 470 / W], [1 - 662 / H, 1 - 497 / H], transform=fig.transFigure,
                      color='#ff0000', lw=3, linestyle=(0, (6, 3)), zorder=6))
fig.add_artist(Ellipse((497 / W, 1 - 475 / H), 77 / W, 76 / H, transform=fig.transFigure,
                       fill=False, edgecolor='#ff0000', lw=3, zorder=6))
for i, line in enumerate(moraine_lines):
    fig.text(-5 / W, 1 - (769 + 38 * i) / H, line, ha='left', va='center', fontsize=23,
             fontweight='bold', color='#ff0000')
fig.text(-11 / W, 1 - 1065 / H, '(Innes, Wikipedia, 2006)', ha='left', va='center',
         fontsize=23, fontweight='bold', color='#0000c0')

fig.savefig('out.png', dpi=100)
